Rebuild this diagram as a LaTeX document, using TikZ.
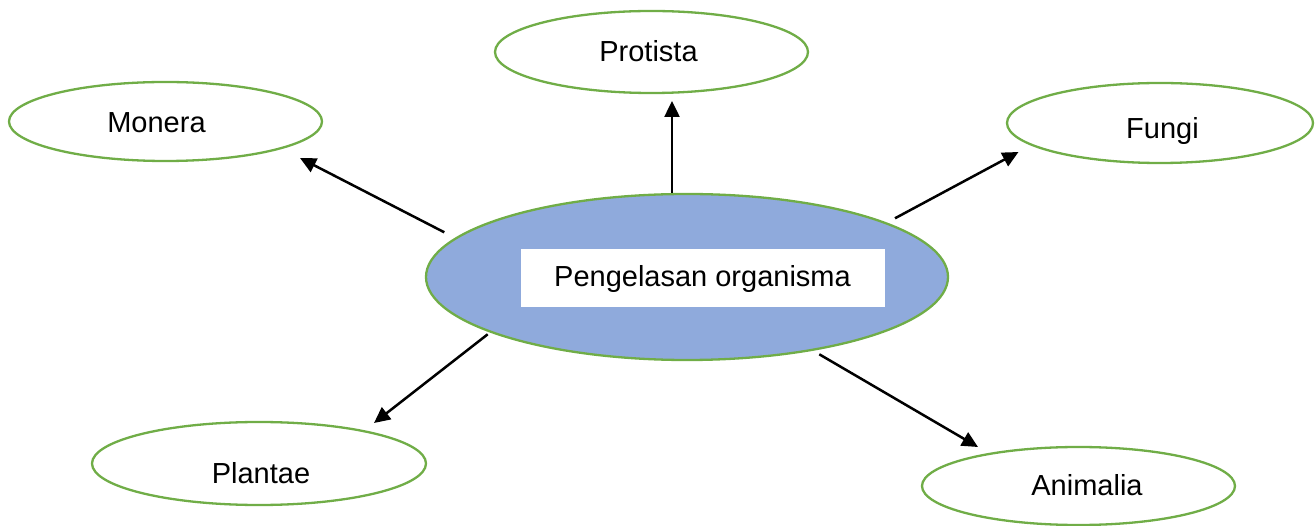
\documentclass[tikz,border=0pt]{standalone}
\usepackage{fontspec}
\setmainfont{Liberation Sans}
\usetikzlibrary{shapes.geometric,arrows.meta}
\definecolor{ringgreen}{HTML}{70AD47}
\definecolor{hubblue}{HTML}{8FAADC}
\tikzset{
  ring/.style={ellipse, draw=ringgreen, line width=2.3pt, inner sep=0pt, fill=white},
  hub/.style={ellipse, draw=ringgreen, line width=2.3pt, inner sep=0pt, fill=hubblue},
  lbl/.style={anchor=base, inner sep=0pt, font=\fontsize{29}{34}\selectfont},
  conn/.style={line width=2.5pt, -{Triangle[length=16pt,width=15pt]}}
}
\begin{document}
\begin{tikzpicture}[x=1pt,y=-1pt]
\useasboundingbox (0,0) rectangle (1315,526);
% ellipses
\node[hub, minimum width=522pt, minimum height=166pt] (hub) at (687,277) {};
\node[fill=white, inner sep=0pt, minimum width=364pt, minimum height=58pt] (hubbox) at (703,278) {};
\node[ring, minimum width=313pt, minimum height=79pt] (monera) at (165.5,121.5) {};
\node[ring, minimum width=313pt, minimum height=82pt] (protista) at (651.5,52) {};
\node[ring, minimum width=306pt, minimum height=80pt] (fungi) at (1160,123) {};
\node[ring, minimum width=334pt, minimum height=83pt] (plantae) at (259,463.5) {};
\node[ring, minimum width=313pt, minimum height=78pt] (animalia) at (1078.5,486) {};
% labels
\node[lbl] (hubT) at (702.5,286.7) {Pengelasan organisma};
\node[lbl] (moneraT) at (156.5,132.7) {Monera};
\node[lbl] (protistaT) at (648.5,61.7) {Protista};
\node[lbl] (fungiT) at (1162.5,139) {Fungi};
\node[lbl] (plantaeT) at (261,483) {Plantae};
\node[lbl] (animaliaT) at (1087,496) {Animalia};
% connector ends
\coordinate (s1) at (444.3,232.3);  \coordinate (t1) at (300,158);
\coordinate (s2) at (672,193);      \coordinate (t2) at (672,101);
\coordinate (s3) at (895,218.3);    \coordinate (t3) at (1018.5,152);
\coordinate (s4) at (487.7,334.3);  \coordinate (t4) at (374,423);
\coordinate (s5) at (819.3,354.3);  \coordinate (t5) at (978,447);
\draw[conn] (s1) -- (t1);
\draw[conn] (s2) -- (t2);
\draw[conn] (s3) -- (t3);
\draw[conn] (s4) -- (t4);
\draw[conn] (s5) -- (t5);
\end{tikzpicture}
\end{document}
